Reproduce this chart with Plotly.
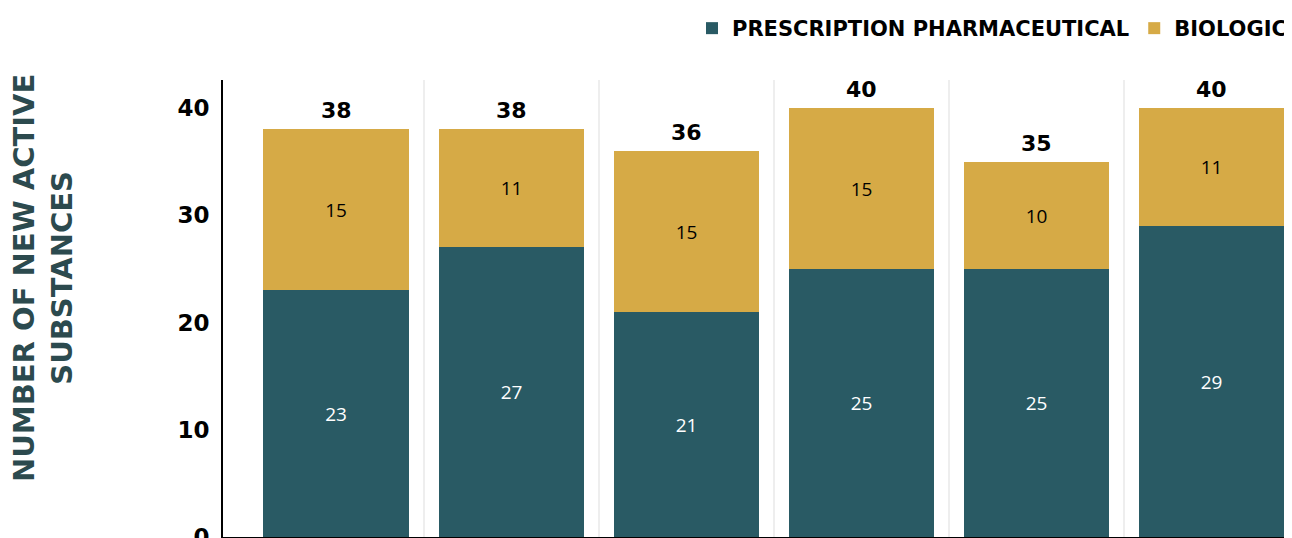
import plotly.graph_objects as go

categories = ["1", "2", "3", "4", "5", "6"]
prescription = [23, 27, 21, 25, 25, 29]
biologic = [15, 11, 15, 15, 10, 11]
totals = [p + b for p, b in zip(prescription, biologic)]
y_ticks = [0, 10, 20, 30, 40]

TEAL = "#295a64"
GOLD = "#d6aa46"
BOLD = "DejaVu Sans"
REG = "Open Sans"

x = list(range(len(categories)))

W, H = 1284, 530
L, T, B, R = 215, 72, 1, 0
PW, PH = W - L - R, H - T - B

fig = go.Figure()
fig.add_trace(go.Bar(
    x=x, y=prescription, name="PRESCRIPTION PHARMACEUTICAL",
    marker=dict(color=TEAL, line=dict(width=0)), width=0.83,
    text=prescription, textposition="inside", insidetextanchor="middle",
    textfont=dict(color="white", size=19, family=REG),
))
fig.add_trace(go.Bar(
    x=x, y=biologic, name="BIOLOGIC",
    marker=dict(color=GOLD, line=dict(width=0)), width=0.83,
    text=biologic, textposition="inside", insidetextanchor="middle",
    textfont=dict(color="black", size=19, family=REG),
))

for xi, t in zip(x, totals):
    fig.add_annotation(x=xi, y=t, text=str(t), showarrow=False,
                       yanchor="bottom", yshift=4,
                       font=dict(size=22, color="black", family=BOLD, weight="bold"))

fig.add_annotation(
    xref="paper", yref="paper",
    x=(35 - L) / PW, y=(529 - 270) / PH,
    text="NUMBER OF NEW ACTIVE<br>SUBSTANCES", textangle=-90, showarrow=False,
    font=dict(size=29, color="#2c4a4e", family=BOLD, weight="bold"),
    xanchor="center", yanchor="middle",
)

fig.update_layout(
    barmode="stack",
    width=W, height=H,
    margin=dict(l=L, r=R, t=T, b=B, autoexpand=False),
    plot_bgcolor="white", paper_bgcolor="white",
    bargap=0,
    legend=dict(orientation="h", x=1, xanchor="right", y=1,
                yref="container", yanchor="top",
                font=dict(size=21, color="black", family=BOLD, weight="bold"),
                traceorder="normal"),
)
fig.update_xaxes(
    range=[-0.646, 5.46], tickvals=[i + 0.5 for i in x[:-1]],
    showticklabels=False, showgrid=True, gridcolor="#eeeeee", gridwidth=2,
    showline=True, linecolor="black", linewidth=2, zeroline=False, ticks="",
    automargin=False,
)
fig.update_yaxes(
    range=[0, 42.6], tickvals=y_ticks, showgrid=False, zeroline=False,
    showline=True, linecolor="black", linewidth=2, ticks="",
    tickfont=dict(size=23, color="black", family=BOLD, weight="bold"),
    ticklabelstandoff=7, ticklabeloverflow="allow", automargin=False,
)

fig.write_html("out.html")
